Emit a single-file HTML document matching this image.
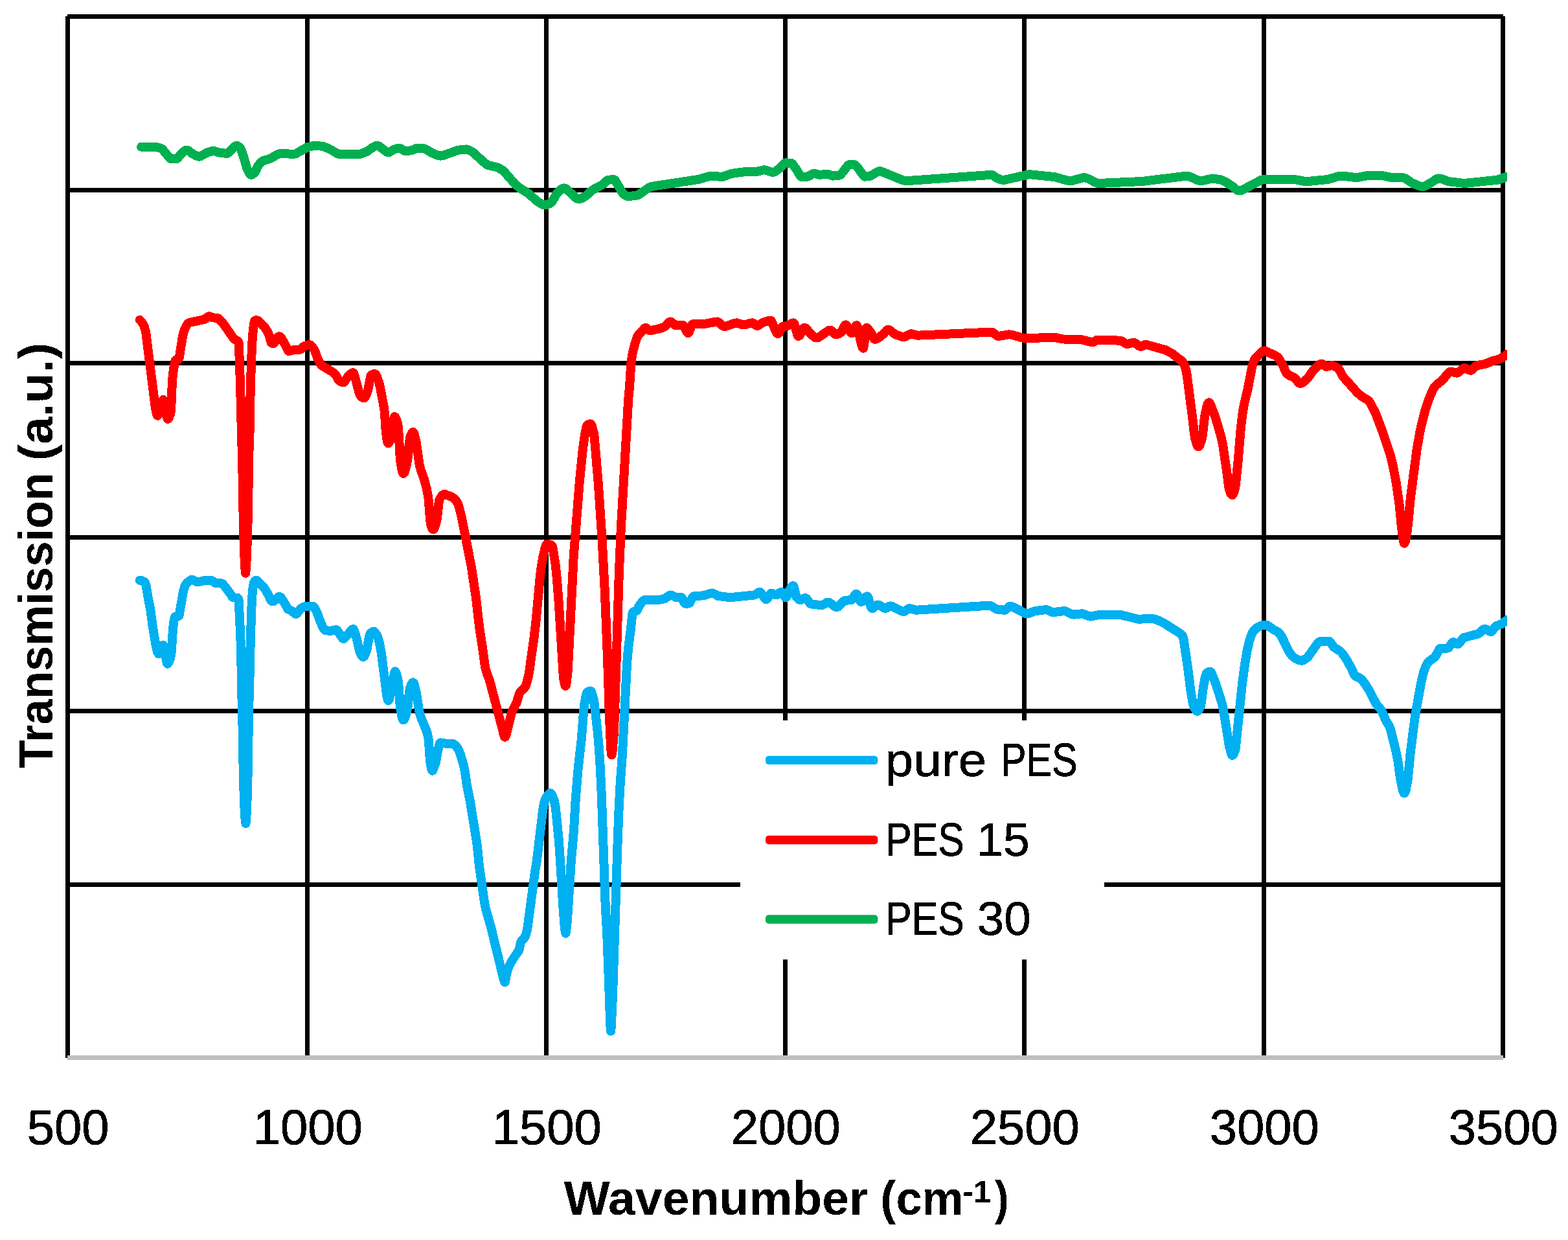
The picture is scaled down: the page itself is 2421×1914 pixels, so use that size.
<!DOCTYPE html>
<html lang="en">
<head>
<meta charset="utf-8">
<title>FTIR transmission spectra</title>
<style>
html,body{margin:0;padding:0;background:#fff;}
body{width:2421px;height:1914px;}
svg{display:block;}
text{font-family:"Liberation Sans",sans-serif;fill:#000;filter:url(#bw);}
.b{font-weight:bold;}
.s{fill:none;stroke-width:14;stroke-linejoin:round;stroke-linecap:round;shape-rendering:crispEdges;}
</style>
</head>
<body>
<svg width="2421" height="1914" viewBox="0 0 2421 1914">
<rect x="0" y="0" width="2421" height="1914" fill="#fff"/>
<defs><filter id="bw" x="-5%" y="-20%" width="110%" height="140%" color-interpolation-filters="sRGB"><feComponentTransfer><feFuncA type="discrete" tableValues="0 1"/></feComponentTransfer></filter><clipPath id="cp"><rect x="100" y="20" width="2227" height="1612"/></clipPath></defs>
<g stroke="#000" stroke-width="7" fill="none" shape-rendering="crispEdges">
<line x1="104" y1="25.50" x2="2321" y2="25.50"/>
<line x1="104" y1="293.50" x2="2321" y2="293.50"/>
<line x1="104" y1="560.50" x2="2321" y2="560.50"/>
<line x1="104" y1="829.50" x2="2321" y2="829.50"/>
<line x1="104" y1="1097.50" x2="2321" y2="1097.50"/>
<line x1="104" y1="1365.50" x2="2321" y2="1365.50"/>
<line x1="104.50" y1="25" x2="104.50" y2="1633"/>
<line x1="474.50" y1="25" x2="474.50" y2="1633"/>
<line x1="843.50" y1="25" x2="843.50" y2="1633"/>
<line x1="1212.50" y1="25" x2="1212.50" y2="1633"/>
<line x1="1581.50" y1="25" x2="1581.50" y2="1633"/>
<line x1="1951.50" y1="25" x2="1951.50" y2="1633"/>
<line x1="2320.50" y1="25" x2="2320.50" y2="1633"/>
</g>
<rect x="104" y="1629" width="2217" height="7" fill="#bfbfbf" shape-rendering="crispEdges"/>
<rect x="1143" y="1112" width="562" height="369" fill="#fff"/>
<g clip-path="url(#cp)">
<path class="s" stroke="#00b0f0" d="M215.8 895.8 L218.8 896.2 L221.8 897.6 L223.4 898.7 L223.8 899.2 L225.2 902.8 L225.8 905.2 L228.8 923.2 L232.2 940.3 L235.8 967.3 L240.8 997.3 L241.8 1001.9 L243.0 1006.0 L243.8 1007.8 L244.8 1009.2 L245.1 1009.3 L245.8 1008.8 L250.8 997.4 L251.8 996.0 L252.1 995.9 L252.8 996.9 L254.8 1005.7 L256.8 1019.4 L257.8 1023.5 L258.5 1024.6 L258.8 1024.5 L259.8 1023.4 L261.8 1019.3 L262.8 1016.7 L264.2 1010.5 L264.8 1004.5 L266.8 974.1 L267.9 962.5 L268.8 957.0 L269.8 952.8 L270.3 952.0 L276.1 950.8 L276.8 948.8 L282.9 913.3 L284.8 906.5 L286.1 903.4 L287.8 900.9 L292.8 896.3 L294.8 895.1 L296.0 894.8 L297.8 895.1 L303.8 898.0 L305.8 898.3 L315.8 896.1 L327.0 896.3 L327.8 896.5 L331.8 899.8 L332.9 900.2 L342.8 900.5 L343.8 901.0 L355.8 916.6 L358.8 921.4 L359.8 922.3 L366.3 922.7 L366.8 922.9 L367.8 924.2 L368.6 926.2 L371.0 975.4 L371.9 998.8 L372.8 1042.1 L373.1 1069.0 L374.0 1090.0 L375.8 1196.0 L376.8 1231.1 L377.8 1253.9 L378.8 1267.7 L379.4 1270.9 L379.8 1268.9 L380.8 1253.9 L381.8 1228.7 L382.9 1183.7 L384.1 1090.0 L385.2 1069.0 L385.8 1023.4 L387.9 952.0 L388.8 928.5 L389.8 913.3 L390.8 905.3 L391.8 900.3 L392.8 897.8 L393.8 896.5 L395.0 895.8 L396.8 896.3 L405.8 904.9 L409.8 910.1 L414.9 919.2 L417.8 925.7 L419.0 927.4 L420.8 928.4 L421.8 928.4 L422.8 928.0 L424.8 926.4 L428.8 922.1 L429.8 921.4 L431.3 920.9 L432.8 921.5 L434.8 923.6 L440.8 933.5 L443.8 939.3 L444.8 940.4 L450.0 942.6 L454.8 946.7 L455.8 947.4 L457.1 947.7 L457.8 947.5 L458.8 946.8 L463.8 939.8 L468.8 936.8 L470.8 936.2 L483.8 936.2 L484.8 936.9 L486.8 940.2 L489.8 946.5 L494.8 960.1 L498.8 968.9 L500.8 971.9 L502.1 972.8 L509.8 974.0 L517.8 972.2 L519.0 972.1 L519.8 972.3 L520.8 973.2 L525.8 980.3 L527.8 983.7 L528.8 985.1 L529.8 985.8 L530.8 985.8 L531.8 985.3 L533.8 983.3 L542.8 972.3 L543.8 971.5 L545.2 971.0 L545.8 971.3 L546.8 972.9 L550.8 985.9 L554.8 1003.4 L555.8 1007.0 L557.8 1011.0 L558.8 1012.5 L559.8 1013.6 L560.9 1014.1 L561.8 1013.6 L562.8 1012.2 L565.8 1004.7 L566.8 1000.8 L569.8 983.8 L570.8 979.8 L571.8 978.0 L573.8 976.1 L575.8 974.9 L577.0 974.7 L577.8 974.9 L578.8 975.7 L580.8 978.6 L582.8 982.4 L583.8 984.9 L585.8 992.4 L588.8 1007.7 L596.8 1070.9 L597.8 1076.9 L598.8 1080.6 L599.5 1081.5 L599.8 1081.4 L600.8 1079.7 L601.8 1076.5 L605.8 1057.9 L608.8 1039.4 L609.8 1036.6 L610.0 1036.5 L610.8 1037.0 L611.8 1039.1 L613.8 1046.4 L614.8 1051.5 L615.8 1062.8 L617.8 1090.6 L618.8 1097.5 L620.8 1107.3 L621.8 1110.4 L622.8 1111.5 L623.8 1110.8 L624.8 1109.0 L626.8 1102.7 L628.8 1094.6 L629.8 1088.3 L631.8 1070.1 L632.8 1062.9 L633.8 1059.6 L635.8 1055.2 L636.8 1053.9 L637.8 1053.4 L638.8 1054.4 L639.8 1057.1 L642.8 1069.3 L646.8 1095.1 L648.2 1102.1 L649.8 1107.1 L657.8 1126.3 L659.8 1132.3 L661.4 1139.6 L661.8 1142.8 L663.8 1171.3 L664.8 1179.7 L665.8 1185.0 L666.8 1188.7 L667.6 1189.7 L667.8 1189.6 L668.8 1187.9 L670.8 1182.3 L672.9 1176.8 L675.8 1159.8 L677.8 1151.5 L678.8 1148.2 L679.9 1146.4 L689.8 1147.8 L698.8 1147.8 L699.8 1148.1 L701.8 1149.5 L704.8 1152.5 L706.8 1155.3 L708.9 1159.3 L710.8 1164.2 L715.8 1181.3 L717.8 1190.7 L720.9 1212.0 L725.8 1236.5 L735.8 1298.1 L736.8 1305.6 L739.8 1335.1 L747.8 1391.6 L749.8 1402.1 L757.8 1430.3 L777.8 1512.2 L778.8 1515.2 L779.6 1516.0 L779.8 1515.8 L780.8 1510.9 L782.0 1503.3 L784.8 1494.2 L788.8 1485.6 L796.8 1473.3 L799.8 1469.3 L801.3 1466.4 L801.8 1464.8 L803.8 1455.2 L804.8 1453.0 L806.8 1450.5 L808.8 1448.6 L810.8 1445.7 L811.8 1443.3 L814.2 1434.2 L825.8 1347.3 L828.8 1328.8 L837.8 1253.1 L840.0 1240.0 L841.8 1234.5 L843.8 1230.5 L846.8 1226.2 L847.8 1225.2 L848.8 1224.5 L849.8 1224.3 L850.8 1224.9 L851.8 1226.2 L854.8 1233.0 L855.8 1236.4 L857.9 1247.1 L862.8 1296.3 L865.8 1340.9 L869.8 1406.7 L871.8 1430.8 L872.8 1439.2 L873.3 1440.7 L873.8 1439.5 L875.3 1428.0 L876.8 1408.0 L881.8 1329.5 L886.0 1282.2 L888.8 1232.5 L892.8 1184.5 L897.8 1140.7 L900.8 1101.6 L902.3 1087.1 L904.8 1073.6 L905.8 1070.1 L906.8 1068.4 L909.8 1066.8 L911.8 1066.5 L912.8 1067.4 L913.8 1069.6 L916.8 1080.5 L917.8 1086.8 L922.8 1130.6 L925.0 1156.2 L926.8 1185.2 L928.8 1226.9 L934.8 1400.0 L937.2 1440.5 L940.8 1537.2 L942.0 1575.0 L942.8 1589.8 L943.1 1591.6 L943.8 1584.1 L946.1 1534.2 L953.8 1294.6 L955.8 1244.3 L957.8 1207.5 L960.8 1166.7 L967.8 1029.4 L969.0 1012.2 L970.8 995.1 L973.8 972.1 L975.8 952.5 L976.8 945.9 L977.3 944.7 L978.8 944.0 L981.8 943.4 L982.9 942.9 L983.8 941.8 L986.8 935.3 L991.8 928.6 L993.8 926.8 L994.8 926.2 L1014.8 926.5 L1026.0 924.1 L1027.8 923.2 L1032.8 919.4 L1034.8 918.6 L1035.8 918.5 L1037.8 919.1 L1042.8 921.8 L1044.8 922.2 L1052.2 922.2 L1052.8 922.5 L1053.8 924.1 L1055.8 928.9 L1056.8 930.8 L1057.8 931.6 L1063.8 931.5 L1064.8 930.7 L1068.8 922.9 L1069.8 921.3 L1071.0 920.4 L1086.8 919.2 L1096.8 915.8 L1099.8 915.5 L1102.8 916.6 L1108.8 920.0 L1127.8 922.2 L1164.8 918.5 L1166.8 917.5 L1170.8 914.6 L1171.8 914.2 L1172.9 914.0 L1173.8 914.2 L1174.8 915.0 L1180.8 923.5 L1181.8 924.5 L1182.8 925.1 L1183.8 925.1 L1184.8 924.3 L1188.8 917.4 L1189.8 916.1 L1190.9 915.5 L1192.8 916.0 L1196.8 918.1 L1198.8 918.5 L1199.8 918.1 L1203.8 914.9 L1204.8 914.3 L1205.9 914.0 L1206.8 914.3 L1207.8 915.3 L1211.8 921.3 L1212.8 922.1 L1213.3 922.2 L1213.8 922.0 L1214.8 920.7 L1219.0 911.0 L1221.8 906.6 L1222.8 905.3 L1223.8 904.5 L1224.8 904.4 L1225.8 906.2 L1228.8 918.5 L1229.8 921.6 L1231.8 923.9 L1233.8 925.4 L1234.8 925.8 L1235.8 926.0 L1237.8 925.5 L1241.8 923.3 L1243.3 923.0 L1243.8 923.1 L1244.8 923.6 L1246.8 925.9 L1250.8 931.4 L1251.8 932.3 L1267.8 934.2 L1269.8 933.8 L1276.8 930.1 L1278.9 929.7 L1280.8 930.1 L1288.8 936.1 L1290.8 937.0 L1292.0 937.2 L1293.8 936.7 L1295.8 935.2 L1301.8 928.7 L1303.8 927.2 L1314.8 925.9 L1315.8 925.1 L1319.8 918.5 L1320.8 917.2 L1322.0 916.6 L1322.8 917.0 L1323.8 918.4 L1327.8 927.4 L1328.8 928.7 L1329.8 929.0 L1330.8 928.6 L1332.8 926.6 L1336.8 921.5 L1337.8 920.7 L1338.9 920.4 L1339.8 921.1 L1340.8 923.4 L1344.8 936.9 L1345.8 938.8 L1346.4 939.1 L1347.8 938.8 L1353.8 934.1 L1354.8 933.6 L1355.8 933.5 L1357.8 934.0 L1364.8 938.5 L1367.0 939.1 L1368.8 938.6 L1372.8 935.9 L1374.8 935.4 L1377.8 936.1 L1392.8 943.6 L1395.1 944.0 L1396.8 943.6 L1402.8 939.5 L1404.8 939.1 L1414.8 941.7 L1527.8 934.6 L1529.8 935.0 L1538.8 940.5 L1551.1 941.8 L1551.8 941.7 L1552.8 941.2 L1557.8 936.5 L1558.8 936.0 L1559.8 935.8 L1562.8 936.3 L1575.8 942.9 L1581.8 946.5 L1583.8 947.1 L1585.8 947.3 L1589.8 946.3 L1596.8 943.4 L1615.1 941.0 L1616.8 941.3 L1623.8 944.8 L1625.8 945.2 L1642.8 943.1 L1645.8 943.7 L1654.8 948.1 L1657.8 948.6 L1670.8 947.3 L1673.8 948.0 L1680.8 951.2 L1683.8 951.6 L1698.8 948.7 L1729.8 948.9 L1757.8 955.8 L1777.8 954.6 L1784.8 956.1 L1795.8 961.0 L1822.8 978.1 L1824.8 979.9 L1826.0 981.4 L1826.8 983.6 L1827.8 988.5 L1834.8 1036.2 L1837.8 1061.7 L1840.8 1080.7 L1841.8 1085.7 L1843.1 1090.1 L1845.8 1095.4 L1846.8 1096.8 L1847.8 1097.6 L1848.8 1097.8 L1849.8 1097.3 L1850.8 1096.1 L1852.8 1092.3 L1853.8 1089.8 L1854.8 1084.8 L1858.0 1060.3 L1860.8 1045.6 L1861.8 1041.7 L1862.8 1039.3 L1864.8 1037.9 L1866.8 1037.1 L1868.8 1036.8 L1869.8 1037.5 L1870.8 1039.1 L1876.8 1054.4 L1885.8 1082.5 L1887.8 1090.1 L1890.8 1106.7 L1897.8 1150.9 L1900.8 1162.5 L1901.8 1165.0 L1902.8 1166.0 L1903.8 1165.4 L1904.8 1163.9 L1907.0 1158.3 L1907.8 1154.4 L1917.8 1057.1 L1921.9 1026.2 L1925.8 1003.1 L1928.8 990.3 L1931.8 981.0 L1933.8 976.4 L1936.8 972.4 L1939.8 969.5 L1946.8 965.9 L1951.8 964.6 L1954.8 964.5 L1956.8 965.2 L1965.8 971.5 L1972.8 975.3 L1975.8 977.8 L1977.8 980.6 L1990.8 1006.9 L1994.8 1012.0 L1998.8 1015.6 L2005.8 1019.1 L2009.8 1019.8 L2011.8 1019.3 L2017.8 1015.5 L2019.8 1013.5 L2033.8 993.8 L2035.8 991.6 L2037.8 990.3 L2051.9 990.0 L2052.8 990.2 L2053.8 991.0 L2059.8 999.3 L2069.0 1004.9 L2072.8 1008.9 L2079.8 1019.1 L2086.8 1032.1 L2090.8 1041.0 L2092.8 1043.5 L2099.8 1046.8 L2101.8 1048.2 L2105.8 1052.9 L2113.8 1065.3 L2124.8 1086.5 L2131.8 1094.8 L2133.8 1098.2 L2139.8 1112.3 L2144.8 1120.2 L2146.8 1125.0 L2154.8 1156.9 L2158.8 1177.2 L2161.8 1199.9 L2164.8 1215.1 L2165.8 1219.2 L2166.8 1222.4 L2167.8 1224.2 L2168.3 1224.4 L2168.8 1224.1 L2169.8 1222.1 L2170.8 1218.6 L2173.8 1202.6 L2177.8 1160.8 L2184.8 1106.0 L2193.8 1055.7 L2196.8 1042.1 L2199.0 1034.7 L2201.8 1027.8 L2203.8 1024.0 L2205.8 1021.3 L2214.8 1014.6 L2216.8 1012.4 L2221.8 1003.0 L2222.8 1001.6 L2223.8 1000.8 L2235.8 1000.5 L2236.8 999.7 L2241.8 992.4 L2242.8 991.5 L2243.8 991.2 L2245.8 991.8 L2249.8 994.0 L2250.9 994.2 L2251.8 994.0 L2252.8 993.3 L2258.8 985.2 L2259.8 984.2 L2282.1 978.5 L2283.8 977.5 L2289.8 972.0 L2291.8 970.9 L2292.8 970.8 L2294.8 971.3 L2299.8 974.4 L2302.1 975.0 L2302.8 974.8 L2303.8 974.1 L2308.8 967.3 L2309.8 966.5 L2318.8 962.8 L2326.8 957.1"/>
<path class="s" stroke="#ff0000" d="M215.8 493.8 L217.8 495.8 L220.8 500.3 L222.8 504.4 L224.8 510.8 L225.8 517.6 L239.8 628.9 L241.8 638.3 L242.8 641.2 L243.3 641.6 L243.8 641.3 L244.8 639.3 L246.8 633.0 L248.8 624.3 L250.8 618.7 L251.8 617.1 L252.1 617.0 L252.8 617.7 L254.8 624.4 L256.8 638.0 L257.8 643.1 L258.8 646.7 L259.1 646.9 L259.8 646.5 L260.8 644.9 L262.8 639.9 L263.8 635.2 L264.2 632.2 L265.0 608.8 L266.2 585.4 L267.8 570.6 L269.8 560.3 L270.8 556.1 L271.8 555.4 L274.8 554.6 L276.1 553.8 L276.8 551.7 L281.8 520.3 L282.8 515.5 L284.8 508.8 L287.8 502.7 L289.8 499.7 L290.8 498.7 L291.9 498.1 L315.9 492.9 L317.8 491.8 L320.8 489.1 L321.8 488.5 L323.0 488.2 L324.8 488.7 L327.8 490.2 L335.8 491.1 L336.8 491.4 L338.8 492.9 L343.8 498.2 L360.8 522.5 L362.8 524.1 L365.8 525.5 L367.8 527.3 L368.6 529.2 L369.8 555.6 L372.1 632.2 L373.1 679.1 L374.0 700.0 L375.8 807.0 L376.8 844.0 L377.8 867.7 L378.8 882.8 L379.2 884.7 L379.8 879.4 L380.8 860.0 L381.8 834.3 L382.9 794.0 L384.3 700.0 L385.4 679.1 L385.9 632.2 L387.9 562.0 L389.1 532.7 L389.8 521.7 L390.9 509.3 L391.8 501.9 L392.8 496.0 L393.2 495.2 L394.8 494.3 L396.1 494.1 L397.8 494.6 L400.8 497.0 L407.8 504.1 L411.8 509.7 L414.8 515.6 L416.0 518.6 L417.8 525.9 L419.0 529.2 L420.8 530.3 L421.8 530.4 L422.8 529.9 L424.8 527.4 L428.8 521.0 L429.8 519.9 L430.8 519.3 L431.8 519.3 L432.8 519.8 L434.8 522.1 L441.8 535.0 L443.8 539.4 L444.8 541.2 L445.9 542.0 L455.8 539.6 L462.8 539.6 L463.8 539.4 L465.8 537.9 L468.8 534.9 L473.8 532.8 L477.8 532.1 L478.8 532.3 L479.8 532.9 L481.8 534.8 L485.8 540.7 L490.9 554.6 L494.8 561.8 L496.8 564.2 L514.8 575.1 L517.8 577.8 L522.8 586.4 L523.8 587.7 L526.8 589.4 L528.8 590.0 L530.2 590.2 L530.8 590.1 L531.8 589.4 L536.8 581.8 L541.8 576.8 L543.8 575.5 L545.2 575.2 L545.8 575.6 L546.8 577.5 L554.8 607.2 L555.8 609.9 L557.8 612.2 L559.8 613.8 L562.1 614.5 L562.8 614.2 L563.8 613.0 L565.8 608.6 L567.8 603.0 L568.8 599.0 L571.8 582.9 L572.8 579.6 L573.3 578.9 L576.8 577.3 L578.9 577.0 L579.8 577.4 L580.8 578.8 L584.8 589.2 L586.8 597.0 L592.8 628.4 L593.9 637.0 L595.8 667.4 L597.8 680.1 L598.8 683.5 L599.5 684.3 L599.8 684.2 L600.8 683.0 L601.8 680.6 L605.2 667.4 L605.8 663.9 L607.8 647.3 L608.9 643.1 L609.8 643.5 L610.8 644.8 L611.8 646.9 L613.8 653.4 L614.8 658.1 L615.8 671.9 L617.8 707.5 L618.8 715.6 L620.8 726.6 L621.8 729.9 L622.8 731.1 L623.8 730.4 L624.8 728.3 L626.8 721.4 L628.8 712.4 L629.8 705.4 L631.8 685.1 L632.8 677.1 L633.8 673.4 L635.8 668.6 L636.8 667.2 L637.8 666.7 L638.8 667.7 L639.8 670.5 L642.8 683.3 L647.8 718.0 L649.8 725.7 L654.8 739.4 L658.8 754.4 L661.4 768.6 L662.8 784.4 L663.8 798.3 L664.8 808.3 L665.8 812.0 L666.8 814.7 L667.8 816.5 L668.9 817.3 L669.8 816.8 L670.8 815.1 L672.8 809.0 L674.8 800.7 L677.8 774.0 L678.2 772.4 L680.8 767.2 L682.8 764.5 L683.8 763.7 L684.8 763.1 L687.8 763.2 L697.8 767.1 L700.8 769.3 L703.8 772.5 L706.8 777.0 L708.8 782.7 L712.8 798.6 L727.8 875.0 L734.8 921.6 L740.0 967.2 L745.8 1005.4 L748.8 1027.8 L749.8 1032.6 L751.8 1039.4 L755.8 1049.9 L775.8 1125.4 L777.8 1134.1 L778.8 1137.1 L779.4 1137.7 L779.8 1137.5 L780.8 1136.0 L782.8 1129.4 L789.8 1100.9 L791.8 1095.6 L797.4 1085.2 L801.8 1071.0 L803.0 1068.4 L804.8 1066.2 L808.8 1063.0 L810.8 1060.4 L811.8 1058.2 L813.8 1052.0 L816.8 1039.3 L824.8 982.1 L827.8 955.8 L833.8 890.3 L835.8 874.6 L837.8 862.4 L841.8 845.0 L842.8 841.9 L843.8 840.1 L844.3 839.8 L848.8 840.5 L851.8 841.7 L852.8 843.4 L853.8 847.1 L857.8 872.8 L859.8 892.6 L862.8 930.9 L869.8 1043.6 L870.8 1051.3 L871.8 1056.1 L872.8 1058.8 L873.1 1059.0 L873.8 1057.7 L874.8 1052.4 L876.1 1042.2 L876.8 1034.3 L885.8 857.6 L894.8 743.7 L899.8 693.6 L902.8 672.1 L904.8 661.7 L905.8 658.0 L906.8 656.2 L909.8 654.6 L911.8 654.3 L912.8 655.2 L913.8 657.3 L916.8 668.3 L917.8 675.4 L923.8 746.1 L929.8 835.9 L933.8 912.1 L937.9 1012.2 L940.8 1102.4 L942.8 1147.7 L943.8 1163.1 L944.3 1165.5 L944.8 1164.5 L945.8 1157.3 L947.8 1131.6 L948.8 1107.8 L955.8 886.3 L958.8 815.7 L969.8 623.7 L970.8 608.8 L971.8 599.5 L972.8 585.3 L974.2 562.1 L975.8 550.5 L977.8 540.2 L981.8 525.8 L983.8 520.3 L985.8 516.7 L991.8 510.7 L994.8 507.0 L995.8 506.2 L996.8 505.9 L997.8 506.2 L1002.8 510.0 L1004.2 510.4 L1020.8 506.6 L1026.8 503.9 L1028.8 502.2 L1032.8 497.8 L1033.8 497.0 L1035.3 496.5 L1036.8 497.0 L1041.8 501.4 L1042.8 502.0 L1054.8 502.1 L1055.8 502.7 L1056.8 504.2 L1059.8 511.0 L1060.8 512.9 L1061.8 513.9 L1062.3 514.1 L1062.8 513.9 L1063.8 512.7 L1067.8 502.6 L1068.8 500.9 L1069.8 500.2 L1087.8 500.0 L1105.8 496.6 L1107.8 496.5 L1109.8 497.5 L1115.8 502.9 L1117.8 503.9 L1119.8 503.9 L1134.8 498.7 L1137.8 498.4 L1146.8 501.2 L1149.8 501.3 L1159.8 498.6 L1161.8 498.4 L1162.8 498.7 L1167.8 502.5 L1169.1 502.9 L1170.8 502.5 L1177.8 497.9 L1186.8 494.9 L1189.8 494.6 L1190.8 495.4 L1191.8 497.3 L1197.8 511.2 L1198.8 513.2 L1199.8 514.6 L1200.9 515.2 L1201.8 514.8 L1202.8 513.5 L1206.8 505.6 L1207.8 504.3 L1216.8 502.6 L1222.8 499.1 L1225.3 498.4 L1225.8 498.7 L1226.8 500.5 L1230.8 515.4 L1231.8 518.0 L1232.8 519.0 L1233.8 518.6 L1234.8 517.5 L1239.8 508.0 L1240.8 506.7 L1241.8 506.0 L1242.8 506.0 L1243.8 506.4 L1245.8 508.3 L1250.8 514.6 L1257.8 520.5 L1259.8 521.4 L1261.8 521.5 L1263.8 520.9 L1278.8 510.4 L1280.8 509.7 L1281.8 509.6 L1282.8 509.9 L1284.8 511.5 L1288.8 515.4 L1289.8 516.0 L1290.9 516.3 L1293.8 515.7 L1298.8 513.0 L1299.8 511.6 L1303.8 503.4 L1304.8 502.0 L1305.9 501.4 L1306.8 501.7 L1307.8 502.8 L1312.8 512.0 L1313.8 513.3 L1314.8 514.0 L1315.2 514.1 L1315.8 513.9 L1316.8 512.7 L1320.8 504.0 L1321.8 502.6 L1322.8 502.1 L1323.8 503.8 L1324.8 507.6 L1328.8 526.4 L1330.8 533.9 L1331.8 536.6 L1332.8 537.7 L1333.8 534.3 L1336.8 508.7 L1337.8 505.9 L1338.8 506.2 L1339.8 506.9 L1345.8 515.1 L1348.8 521.6 L1349.8 523.2 L1350.8 523.8 L1352.8 523.5 L1355.8 521.9 L1362.8 516.5 L1368.8 510.1 L1369.8 509.4 L1371.8 508.9 L1373.8 509.6 L1381.8 515.9 L1391.8 519.6 L1395.8 520.1 L1397.8 519.7 L1404.8 515.7 L1407.0 515.2 L1416.8 517.7 L1530.8 512.6 L1532.8 513.2 L1539.8 518.4 L1541.9 519.0 L1557.8 516.3 L1561.8 516.7 L1581.8 522.4 L1627.8 520.6 L1640.8 523.5 L1667.8 523.7 L1684.8 527.9 L1687.8 528.1 L1689.8 527.2 L1692.8 525.1 L1693.8 524.6 L1727.8 525.6 L1731.8 526.4 L1738.8 530.7 L1740.8 531.1 L1748.8 528.9 L1750.8 528.9 L1752.8 529.7 L1758.8 534.0 L1760.8 534.8 L1761.8 534.9 L1763.8 534.2 L1767.8 532.1 L1769.8 531.9 L1799.8 540.3 L1809.8 545.7 L1819.8 553.7 L1823.8 556.3 L1826.1 558.5 L1827.8 561.4 L1829.8 566.8 L1831.8 574.1 L1832.8 579.7 L1841.8 649.5 L1843.8 667.9 L1845.2 676.7 L1847.8 685.7 L1848.8 688.0 L1849.8 689.3 L1850.3 689.5 L1850.8 689.4 L1851.8 688.3 L1852.8 686.4 L1854.8 680.6 L1855.9 676.7 L1856.8 671.4 L1860.1 642.6 L1862.8 630.0 L1863.8 626.3 L1864.8 623.4 L1865.8 621.7 L1866.5 621.3 L1866.8 621.3 L1867.8 622.2 L1868.8 623.8 L1876.8 644.7 L1884.8 672.0 L1887.8 685.2 L1894.8 732.3 L1896.8 748.7 L1897.8 755.0 L1898.8 758.4 L1900.8 762.5 L1901.8 763.7 L1902.8 764.1 L1903.8 763.3 L1904.8 761.1 L1907.0 753.4 L1907.8 749.1 L1911.8 709.6 L1915.8 661.0 L1918.8 636.1 L1920.8 624.6 L1926.8 599.8 L1932.8 568.2 L1934.8 560.4 L1936.2 556.6 L1938.8 552.4 L1947.8 543.2 L1949.8 541.8 L1951.8 541.4 L1954.8 542.2 L1969.8 549.2 L1972.8 551.3 L1974.8 553.7 L1980.8 564.0 L1985.8 575.2 L1987.8 577.7 L1991.8 580.0 L1997.8 582.5 L1999.8 584.0 L2004.8 590.4 L2005.8 591.3 L2007.3 591.9 L2008.8 591.7 L2011.8 590.2 L2018.8 584.2 L2027.8 571.5 L2035.8 563.7 L2037.8 562.3 L2039.8 561.6 L2040.8 561.5 L2041.8 561.8 L2046.8 565.6 L2048.3 566.1 L2054.8 564.3 L2056.8 564.2 L2059.8 565.0 L2065.8 568.3 L2067.8 570.7 L2073.8 581.5 L2095.8 606.2 L2102.8 612.1 L2110.8 616.8 L2113.8 619.3 L2115.8 621.9 L2123.8 637.6 L2133.8 664.1 L2146.8 703.0 L2150.8 719.1 L2155.8 745.6 L2160.8 780.7 L2163.8 812.3 L2165.8 827.8 L2166.8 834.1 L2167.8 838.1 L2168.3 838.7 L2168.8 838.3 L2169.8 835.7 L2172.8 819.7 L2174.8 800.9 L2177.8 768.7 L2187.8 692.5 L2192.8 664.4 L2199.8 635.6 L2205.8 617.1 L2211.8 602.8 L2214.8 597.4 L2217.8 594.1 L2226.9 587.0 L2235.8 576.2 L2237.8 574.5 L2238.8 574.0 L2240.8 573.7 L2248.8 575.6 L2249.8 575.6 L2250.8 575.4 L2252.8 574.2 L2257.8 569.5 L2259.8 568.3 L2261.1 568.0 L2262.8 568.3 L2268.8 571.4 L2270.8 571.8 L2271.8 571.5 L2273.8 570.0 L2277.8 565.7 L2280.1 564.2 L2292.8 561.9 L2304.8 557.1 L2314.8 554.5 L2322.8 549.9 L2326.4 547.1"/>
<path class="s" stroke="#00b050" d="M218.1 226.7 L241.1 226.8 L249.2 229.3 L251.1 230.6 L262.1 244.2 L263.1 245.0 L264.2 245.4 L272.1 245.4 L273.1 245.0 L275.1 243.2 L280.1 236.9 L285.1 232.9 L287.1 231.9 L289.1 231.7 L291.1 232.5 L297.1 237.4 L304.1 241.0 L307.3 241.7 L309.1 241.4 L319.1 235.9 L327.1 233.3 L330.1 233.1 L341.1 236.1 L350.4 236.8 L351.1 236.7 L352.1 236.2 L362.1 226.4 L364.1 225.1 L365.3 224.8 L367.1 225.3 L369.1 226.7 L371.1 228.7 L372.1 230.4 L377.1 245.2 L381.1 259.6 L384.1 265.9 L386.1 268.8 L387.1 269.6 L388.1 269.8 L389.1 269.5 L391.1 268.2 L393.4 266.0 L394.1 265.1 L398.1 256.4 L401.1 252.5 L404.1 249.6 L407.1 247.9 L416.1 245.3 L429.1 238.2 L433.1 236.9 L454.1 237.9 L457.1 237.1 L474.1 227.3 L484.1 225.0 L499.1 225.7 L512.1 231.8 L520.1 236.7 L523.1 237.8 L556.1 237.8 L566.1 234.1 L576.1 227.1 L581.1 225.0 L583.1 224.8 L585.1 225.6 L597.1 234.6 L599.5 235.3 L601.1 235.0 L608.1 230.7 L614.1 228.8 L617.1 228.7 L619.1 229.5 L624.1 232.7 L626.1 233.1 L635.1 232.3 L638.1 231.2 L642.1 229.1 L645.1 228.6 L654.1 229.3 L657.1 230.3 L667.1 236.1 L676.1 239.9 L680.1 240.6 L685.1 239.7 L707.1 231.8 L720.1 230.4 L723.1 231.2 L730.1 235.0 L750.1 253.0 L753.2 254.8 L768.1 258.4 L776.1 262.7 L780.1 266.8 L796.1 285.1 L804.1 291.3 L815.1 298.0 L829.1 310.4 L837.1 315.5 L840.1 316.5 L843.1 316.4 L848.1 314.4 L851.1 312.5 L853.1 310.2 L860.1 297.9 L866.1 292.5 L869.1 290.8 L871.2 290.4 L873.1 290.9 L875.1 292.4 L889.1 305.4 L891.1 306.6 L894.1 307.3 L897.1 306.6 L904.1 302.8 L915.1 293.1 L930.1 285.0 L937.1 278.7 L939.1 277.6 L948.1 277.3 L949.1 277.7 L950.1 278.8 L961.1 297.7 L963.1 299.9 L967.1 302.5 L969.1 303.3 L984.1 301.5 L987.1 299.9 L1002.1 289.5 L1006.1 287.8 L1078.1 277.0 L1095.1 272.1 L1116.1 272.7 L1130.1 267.8 L1149.1 265.3 L1167.1 265.2 L1179.1 262.4 L1182.1 262.5 L1191.1 265.7 L1194.1 265.9 L1196.1 265.3 L1204.1 259.4 L1210.1 253.1 L1212.1 251.7 L1213.1 251.3 L1221.5 251.8 L1223.1 252.6 L1230.1 262.0 L1235.1 270.7 L1236.1 272.1 L1237.1 273.0 L1238.4 273.5 L1246.1 272.8 L1249.1 271.6 L1254.1 268.7 L1256.1 268.0 L1258.1 268.0 L1265.1 269.7 L1278.1 269.0 L1286.1 271.6 L1296.5 270.5 L1298.1 269.6 L1309.1 255.5 L1310.1 254.6 L1311.5 254.1 L1319.1 254.1 L1320.1 254.4 L1321.1 255.0 L1323.1 257.1 L1333.1 271.0 L1334.1 272.0 L1335.1 272.7 L1344.1 271.5 L1355.1 265.0 L1357.1 264.3 L1360.1 264.4 L1394.1 278.3 L1400.1 279.2 L1531.1 269.8 L1533.1 270.6 L1539.1 275.0 L1546.1 277.5 L1550.1 278.0 L1589.1 269.1 L1628.1 273.1 L1649.1 278.9 L1654.1 279.2 L1672.1 274.4 L1675.1 274.3 L1679.1 275.4 L1692.1 282.0 L1696.1 283.0 L1763.1 280.0 L1832.1 271.6 L1836.1 272.3 L1850.1 278.5 L1855.1 279.2 L1872.1 275.5 L1885.1 277.4 L1892.1 280.6 L1902.1 287.1 L1909.1 292.8 L1911.1 293.9 L1913.4 294.4 L1917.1 293.8 L1947.1 277.9 L1951.1 276.8 L2002.1 277.5 L2016.1 280.3 L2050.1 277.0 L2067.1 272.0 L2076.1 271.9 L2094.1 274.3 L2112.1 270.9 L2134.1 271.0 L2149.1 274.2 L2167.1 274.4 L2170.1 275.5 L2180.1 282.4 L2192.1 287.4 L2197.1 288.0 L2200.1 287.2 L2210.1 281.7 L2217.1 276.7 L2219.1 275.8 L2221.2 275.4 L2226.1 276.2 L2237.1 280.2 L2261.1 283.0 L2312.1 277.7 L2326.4 272.8"/>
</g>
<rect x="1182" y="1166.7" width="173.4" height="13.4" rx="5" ry="5" fill="#00b0f0"/>
<text y="1197.5" font-size="73" stroke="#000" stroke-width="0.6"><tspan x="1366.8" textLength="156.4" lengthAdjust="spacingAndGlyphs">pure</tspan> <tspan x="1544.9" textLength="118.8" lengthAdjust="spacingAndGlyphs">PES</tspan></text>
<rect x="1182" y="1289.8" width="173.4" height="13.4" rx="5" ry="5" fill="#ff0000"/>
<text y="1320.7" font-size="73" stroke="#000" stroke-width="0.6"><tspan x="1367.2" textLength="121.6" lengthAdjust="spacingAndGlyphs">PES</tspan> <tspan x="1508.1" textLength="81.7" lengthAdjust="spacingAndGlyphs">15</tspan></text>
<rect x="1182" y="1412.3" width="173.4" height="13.4" rx="5" ry="5" fill="#00b050"/>
<text y="1443.4" font-size="73" stroke="#000" stroke-width="0.6"><tspan x="1367.2" textLength="121.6" lengthAdjust="spacingAndGlyphs">PES</tspan> <tspan x="1508.7" textLength="83.0" lengthAdjust="spacingAndGlyphs">30</tspan></text>
<text x="105.2" y="1765.5" font-size="76" text-anchor="middle" stroke="#000" stroke-width="0.8">500</text>
<text x="475.2" y="1765.5" font-size="76" text-anchor="middle" stroke="#000" stroke-width="0.8">1000</text>
<text x="844.2" y="1765.5" font-size="76" text-anchor="middle" stroke="#000" stroke-width="0.8">1500</text>
<text x="1213.2" y="1765.5" font-size="76" text-anchor="middle" stroke="#000" stroke-width="0.8">2000</text>
<text x="1582.2" y="1765.5" font-size="76" text-anchor="middle" stroke="#000" stroke-width="0.8">2500</text>
<text x="1952.2" y="1765.5" font-size="76" text-anchor="middle" stroke="#000" stroke-width="0.8">3000</text>
<text x="2321.2" y="1765.5" font-size="76" text-anchor="middle" stroke="#000" stroke-width="0.8">3500</text>
<text class="b" y="1875" font-size="74"><tspan x="870.8" textLength="469.6" lengthAdjust="spacingAndGlyphs">Wavenumber</tspan> <tspan x="1359.3" textLength="128.6" lengthAdjust="spacingAndGlyphs">(cm</tspan><tspan x="1486.6" textLength="43.8" lengthAdjust="spacingAndGlyphs" font-size="48.5" dy="-19.3">-1</tspan><tspan x="1535.7" textLength="22.0" lengthAdjust="spacingAndGlyphs" dy="19.3">)</tspan></text>
<text class="b" transform="rotate(-90)" y="81" font-size="74"><tspan x="-1185.4" textLength="455.9" lengthAdjust="spacingAndGlyphs">Transmission</tspan> <tspan x="-711.3" textLength="182.4" lengthAdjust="spacingAndGlyphs">(a.u.)</tspan></text>
</svg>
</body>
</html>
